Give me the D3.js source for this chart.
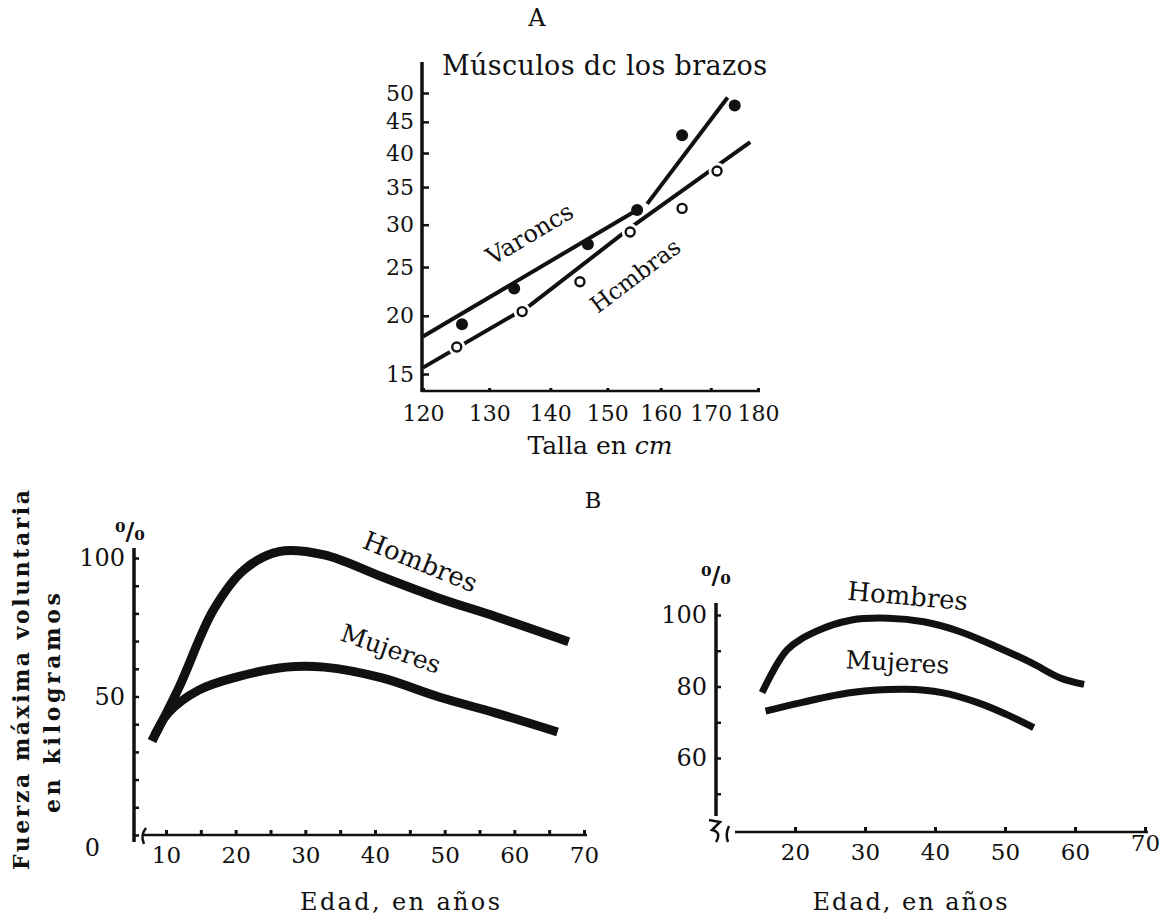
<!DOCTYPE html>
<html>
<head>
<meta charset="utf-8">
<script src="https://cdn.jsdelivr.net/npm/d3@7"></script>
<style>
body{margin:0;background:#fff}
svg text{font-family:"DejaVu Serif","Liberation Serif",serif;fill:#111}
</style>
</head>
<body>
<script>
// ---- A: músculos de los brazos vs talla (log / pow axes)
let tallaTicks = [120,130,140,150,160,170,180];
let musculoTicks = [15,20,25,30,35,40,45,50];
let varonesPuntos = [[125.8,19.2],[134,22.7],[146.5,27.6],[155.5,31.9],[164.2,42.8],[175,47.8]];
let varonesTramo1 = [[120,18.1],[155.5,31.9]];
let varonesTramo2 = [[157.4,32.7],[173.5,49.2]];
let hembrasPuntos = [[125,17.2],[135.3,20.4],[145.1,23.4],[154.2,29.1],[164.2,32.1],[171.3,37.3]];
let hembrasLinea = [[120,15.5],[136.6,21],[154.2,29.6],[178.3,41.7]];

// ---- B: fuerza máxima voluntaria vs edad
let edadTicks = [10,20,30,40,50,60,70];
let edadTicksMenores = [10,15,20,25,30,35,40,45,50,55,60,65,70];
let fuerzaTicks = [0,10,20,30,40,50,60,70,80,90,100];
let fuerzaEtiquetas = [0,50,100];
let hombresKg = [[8,34],[11.9,53.5],[16.8,81.2],[21.2,95.7],[26.2,102.3],[32.7,101.1],[41,93.2],[49.2,85.5],[57.4,78.8],[67.8,69.8]];
let mujeresKg = [[8,34],[10.3,44],[14.7,52.3],[20.1,57],[27.3,60.6],[32.7,60.6],[41,56.7],[49.2,49.8],[57.4,44],[66.2,37.2]];

let edad2Ticks = [20,30,40,50,60,70];
let pct2Ticks = [50,60,70,80,90,100];
let pct2Etiquetas = [60,80,100];
let hombresPct = [[15.3,78.3],[18.9,90.3],[23,95.4],[28.1,98.6],[33.3,99.1],[38.4,98.1],[43.5,95.4],[48.7,91.2],[53.8,86.6],[57.9,82.4],[61.3,80.6]];
let mujeresPct = [[15.8,73.1],[20.9,75.5],[28.1,78.3],[35.8,79.2],[41,78.3],[46.1,75.5],[50.2,72.2],[54.1,68.5]];

let width = 1164, height = 915;
let svg = d3.select("body").append("svg").attr("width", width).attr("height", height);

// ================= A =================
let xA = d3.scaleLog().domain([120,180]).range([423,758]);
let yA = d3.scalePow().exponent(0.3).domain([15,50]).range([374,93]);

let gA = svg.append("g");
gA.append("text").attr("x",537).attr("y",26).attr("text-anchor","middle").style("font-size","24px").text("A");
gA.append("text").attr("x",442).attr("y",75).attr("textLength",325).attr("lengthAdjust","spacing")
  .style("font-size","27px").text("Músculos dc los brazos");

gA.append("line").attr("x1",422).attr("x2",422).attr("y1",62).attr("y2",392).attr("stroke","#111").attr("stroke-width",3.5);
gA.append("line").attr("x1",421).attr("x2",760).attr("y1",391).attr("y2",391).attr("stroke","#111").attr("stroke-width",2.5);

let yAxisA = d3.axisLeft(yA).tickValues(musculoTicks).tickSize(-7).tickPadding(8);
gA.append("g").attr("transform","translate(422,0)").call(yAxisA)
  .call(g => g.select(".domain").remove())
  .call(g => g.selectAll("line").attr("stroke","#111").attr("stroke-width",2.5))
  .call(g => g.selectAll("text").style("font-size","22px").attr("fill","#111"));

let xAxisA = d3.axisBottom(xA).tickValues(tallaTicks).tickFormat(d3.format("d")).tickSize(-3).tickPadding(14);
gA.append("g").attr("transform","translate(0,391)").call(xAxisA)
  .call(g => g.select(".domain").remove())
  .call(g => g.selectAll("line").attr("stroke","#111").attr("stroke-width",3))
  .call(g => g.selectAll("text").style("font-size","22px").attr("fill","#111"));

let xlab = gA.append("text").attr("x",600).attr("y",454).attr("text-anchor","middle").style("font-size","25px");
xlab.append("tspan").text("Talla en ");
xlab.append("tspan").style("font-style","italic").text("cm");

let lineA = d3.line().x(d => xA(d[0])).y(d => yA(d[1]));
[varonesTramo1, varonesTramo2, hembrasLinea].forEach(t => {
  gA.append("path").attr("d", lineA(t)).attr("fill","none").attr("stroke","#111").attr("stroke-width",4);
});

gA.selectAll(".hem").data(hembrasPuntos).enter().append("circle")
  .attr("cx", d => xA(d[0])).attr("cy", d => yA(d[1])).attr("r",5)
  .attr("fill","#fff").attr("stroke","#fff").attr("stroke-width",7);
gA.selectAll(".hem2").data(hembrasPuntos).enter().append("circle")
  .attr("cx", d => xA(d[0])).attr("cy", d => yA(d[1])).attr("r",4.5)
  .attr("fill","#fff").attr("stroke","#111").attr("stroke-width",2.4);
gA.selectAll(".var").data(varonesPuntos).enter().append("circle")
  .attr("cx", d => xA(d[0])).attr("cy", d => yA(d[1])).attr("r",6)
  .attr("fill","#111");

gA.append("text").attr("transform","translate(534,241) rotate(-31)").attr("text-anchor","middle")
  .style("font-size","24px").text("Varoncs");
gA.append("text").attr("transform","translate(640,282) rotate(-37)").attr("text-anchor","middle")
  .style("font-size","23px").text("Hcmbras");

// ================= B =================
svg.append("text").attr("x",593).attr("y",508).attr("text-anchor","middle").style("font-size","23px").text("B");

svg.append("text").attr("transform","translate(29,680) rotate(-90)").attr("text-anchor","middle")
  .attr("textLength",380).attr("lengthAdjust","spacing")
  .style("font-size","22px").style("font-weight","bold").text("Fuerza máxima voluntaria");
svg.append("text").attr("transform","translate(60,703) rotate(-90)").attr("text-anchor","middle")
  .attr("textLength",220).attr("lengthAdjust","spacing")
  .style("font-size","22px").style("font-weight","bold").text("en kilogramos");

function curvePanel(opts) {
  let g = svg.append("g");
  let x = opts.x, y = opts.y;
  // axes lines
  g.append("line").attr("x1",opts.yAxisX).attr("x2",opts.yAxisX).attr("y1",opts.yTop).attr("y2",opts.yBottom)
    .attr("stroke","#111").attr("stroke-width",3.5);
  g.append("line").attr("x1",opts.xStart).attr("x2",opts.xEnd).attr("y1",opts.xAxisY).attr("y2",opts.xAxisY)
    .attr("stroke","#111").attr("stroke-width",2.5);

  let ya = d3.axisLeft(y).tickValues(opts.yTicks).tickSize(-5).tickPadding(9)
    .tickFormat(d => opts.yLabels.includes(d) ? d : "");
  g.append("g").attr("transform","translate(" + opts.yAxisX + ",0)").call(ya)
    .call(s => s.select(".domain").remove())
    .call(s => s.selectAll("line").attr("stroke","#111").attr("stroke-width",2.5))
    .call(s => s.selectAll("text").style("font-size","24px").attr("fill","#111"));

  let xa = d3.axisBottom(x).tickValues(opts.xTicks).tickSize(-5).tickPadding(12)
    .tickFormat(d => opts.xLabels.includes(d) ? d : "");
  g.append("g").attr("transform","translate(0," + opts.xAxisY + ")").call(xa)
    .call(s => s.select(".domain").remove())
    .call(s => s.selectAll("line").attr("stroke","#111").attr("stroke-width",3))
    .call(s => s.selectAll("text").style("font-size","23px").attr("fill","#111"));

  let line = d3.line().x(d => x(d[0])).y(d => y(d[1])).curve(d3.curveCatmullRom.alpha(0.5));
  opts.series.forEach(s => {
    g.append("path").attr("d", line(s)).attr("fill","none").attr("stroke","#111")
      .attr("stroke-width",opts.lw).attr("stroke-linejoin","round");
  });
  opts.labels.forEach(l => {
    g.append("text").attr("transform","translate(" + l.x + "," + l.y + ") rotate(" + l.r + ")")
      .attr("text-anchor","middle").style("font-size", l.fs + "px").text(l.t);
  });
  g.append("text").attr("x",opts.pct[0]).attr("y",opts.pct[1]).attr("text-anchor","middle")
    .style("font-size","24px").style("font-weight","bold").text("⁰/₀");
  return g;
}

let xB1 = d3.scaleLinear().domain([10,70]).range([166,584]);
let yB1 = d3.scaleLinear().domain([0,100]).range([835,558]);
let gB1 = curvePanel({
  x: xB1, y: yB1, yAxisX: 134, yTop: 548, yBottom: 842, xStart: 142, xEnd: 587, xAxisY: 835,
  yTicks: fuerzaTicks, yLabels: fuerzaEtiquetas, xTicks: edadTicksMenores, xLabels: edadTicks,
  series: [hombresKg, mujeresKg], lw: 9,
  labels: [{t:"Hombres", x:417, y:570, r:22, fs:26}, {t:"Mujeres", x:388, y:657, r:19, fs:25}],
  pct: [130, 540]
});
gB1.selectAll(".tick text").filter(d => d === 0).attr("dy","0.85em").attr("x",-34);
// axis break near origin
gB1.append("path").attr("d","M146,828 Q140,835 144,844").attr("fill","none").attr("stroke","#111").attr("stroke-width",2.5);
gB1.append("text").attr("x",400).attr("y",910).attr("text-anchor","middle").style("font-size","24px")
  .attr("textLength",200).attr("lengthAdjust","spacing").text("Edad, en años");

let xB2 = d3.scaleLinear().domain([20,70]).range([795,1145]);
let yB2 = d3.scaleLinear().domain([60,100]).range([758,615]);
let gB2 = curvePanel({
  x: xB2, y: yB2, yAxisX: 716, yTop: 603, yBottom: 816, xStart: 735, xEnd: 1148, xAxisY: 832,
  yTicks: pct2Ticks, yLabels: pct2Etiquetas, xTicks: edad2Ticks, xLabels: edad2Ticks,
  series: [hombresPct, mujeresPct], lw: 7,
  labels: [{t:"Hombres", x:907, y:605, r:5, fs:26}, {t:"Mujeres", x:897, y:671, r:3, fs:25}],
  pct: [716, 584]
});
gB2.selectAll(".tick text").filter(d => d === 70).attr("dy","0.3em");
// axis breaks
gB2.append("path").attr("d","M709,820 L720,822 L712,830 Q722,832 716,842").attr("fill","none").attr("stroke","#111").attr("stroke-width",2.5);
gB2.append("path").attr("d","M729,826 Q725,834 728,842").attr("fill","none").attr("stroke","#111").attr("stroke-width",2.5);
gB2.append("text").attr("x",910).attr("y",910).attr("text-anchor","middle").style("font-size","24px")
  .attr("textLength",195).attr("lengthAdjust","spacing").text("Edad, en años");
</script>
</body>
</html>
